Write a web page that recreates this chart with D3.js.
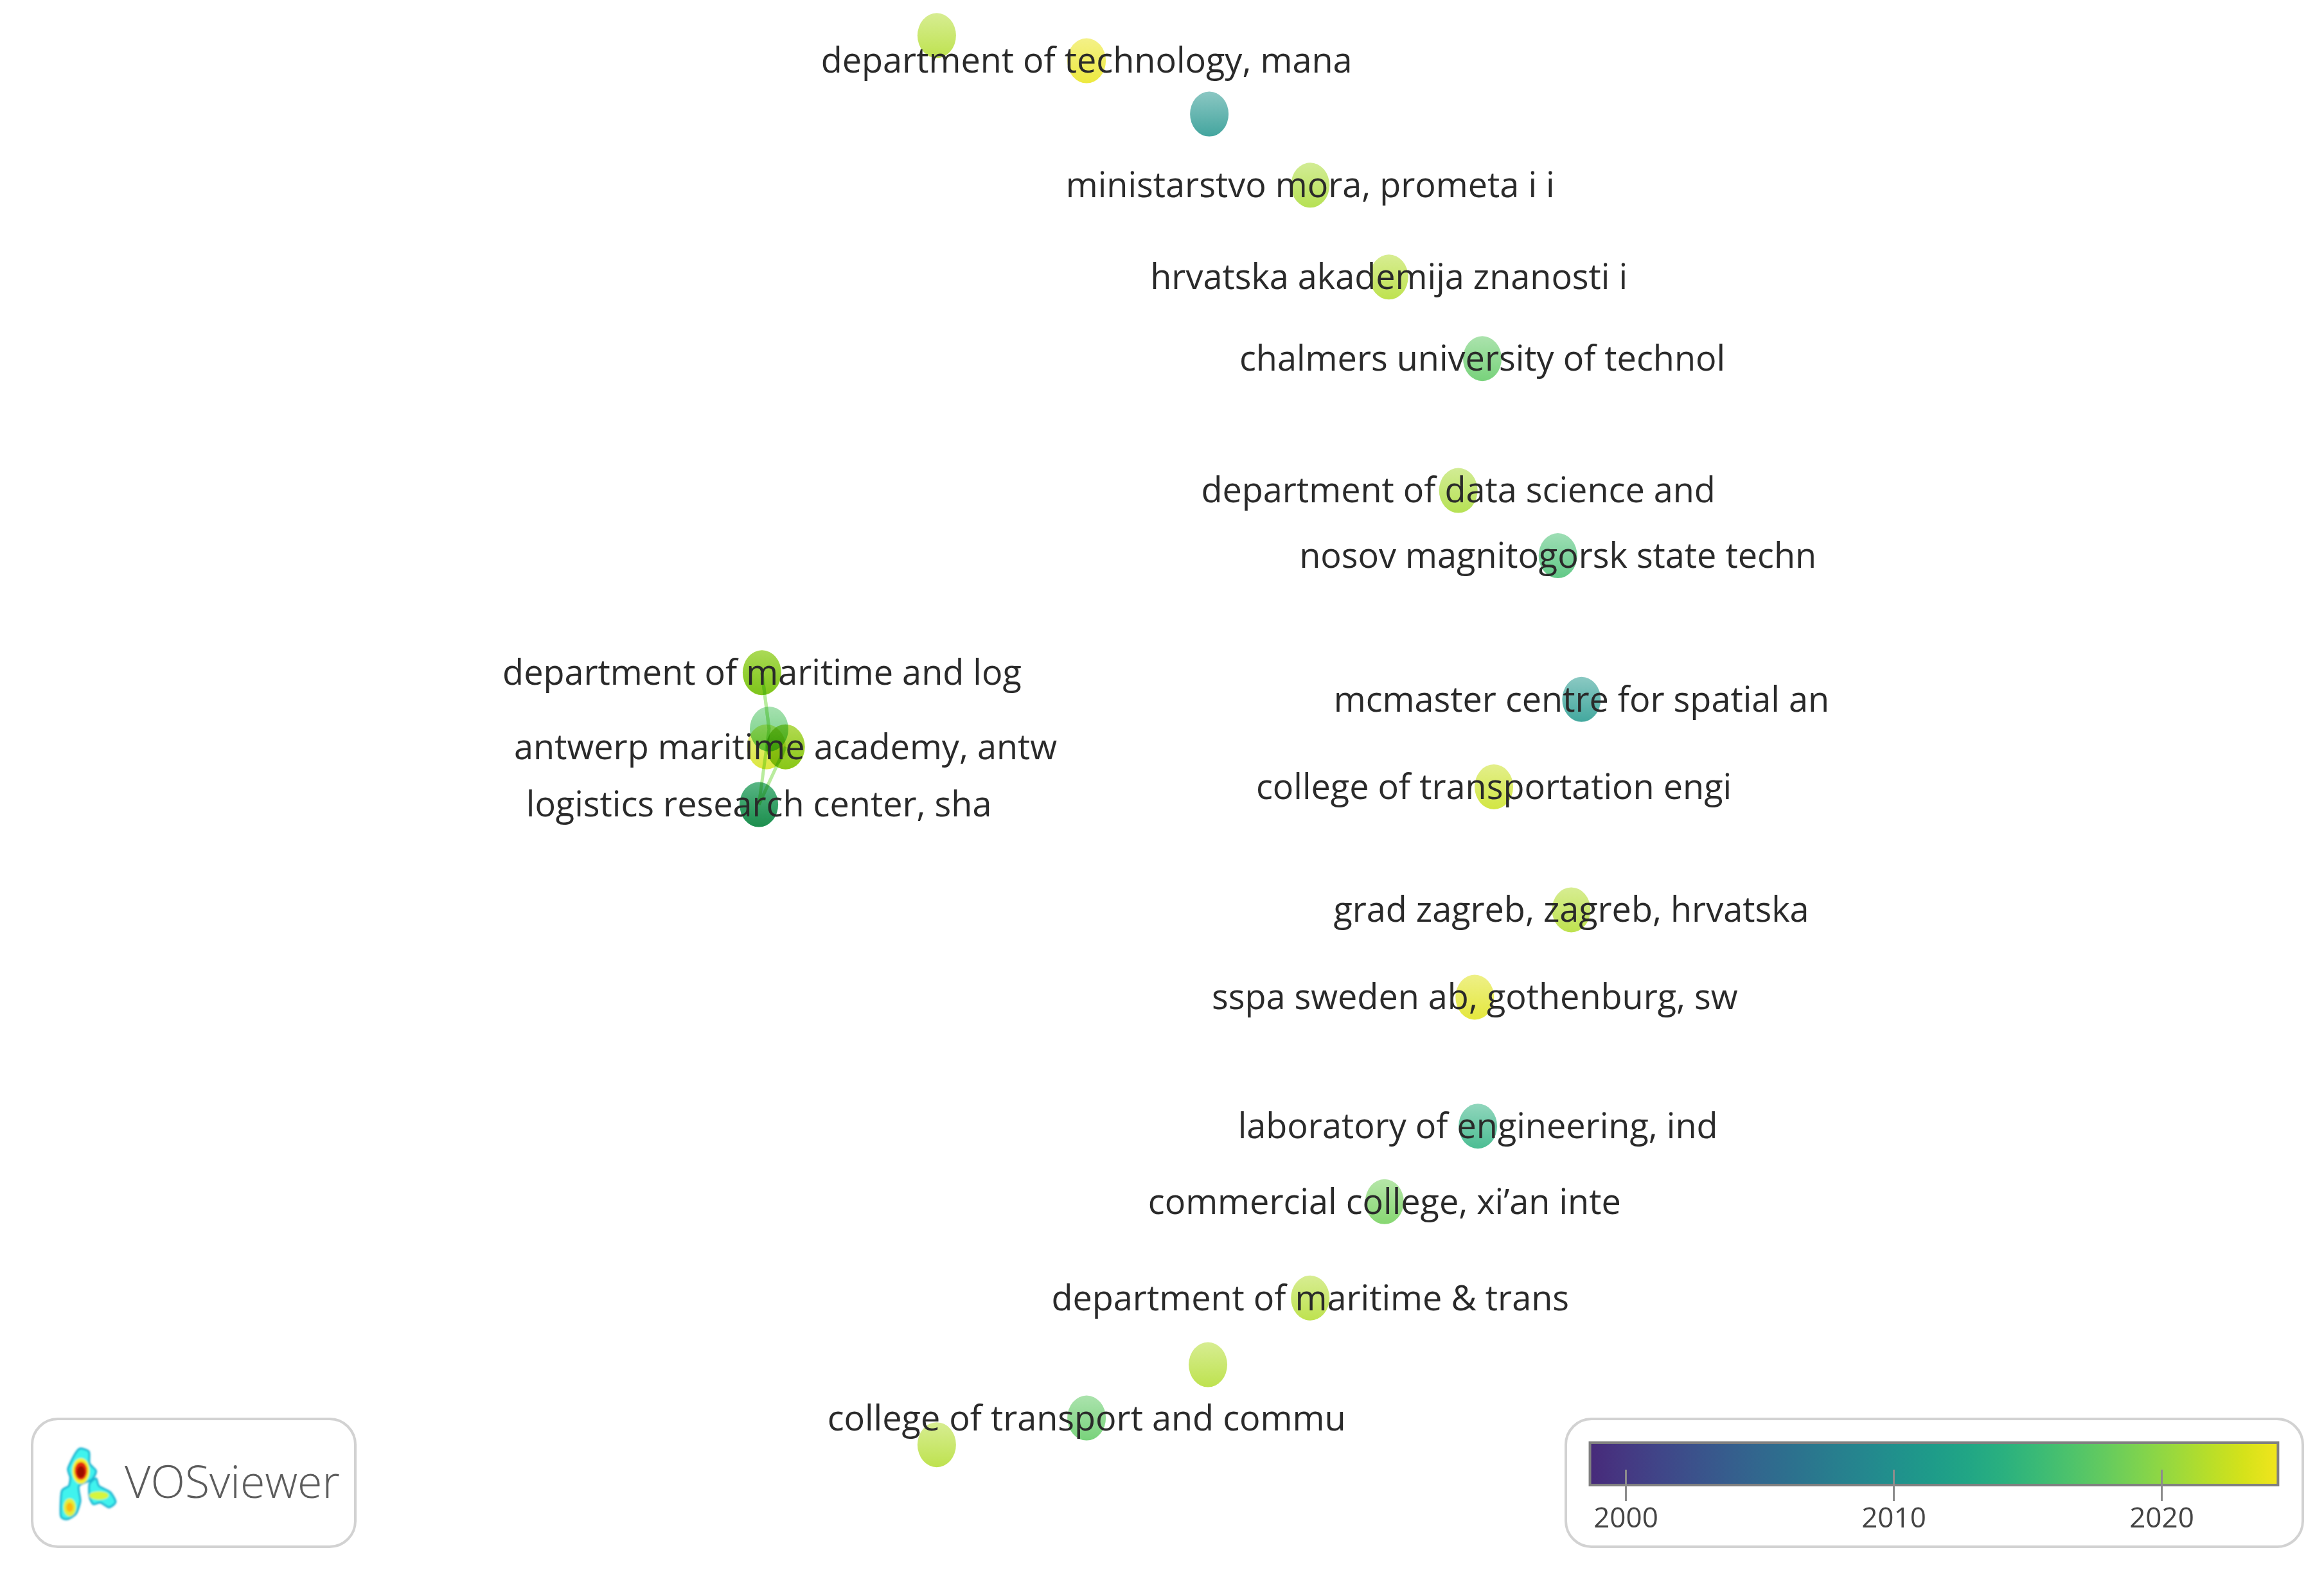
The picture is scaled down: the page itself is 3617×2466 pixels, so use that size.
<!DOCTYPE html>
<html>
<head>
<meta charset="utf-8">
<script src="https://cdn.jsdelivr.net/npm/d3@7"></script>
<style>
  html, body { margin: 0; padding: 0; background: #fff; }
  svg { display: block; font-family: "Open Sans", sans-serif; }
</style>
</head>
<body>
<svg id="chart" width="3617" height="2466"></svg>
<script>
// map coordinates of the nodes
var nodeLabels = ["", "department of technology, mana", "", "ministarstvo mora, prometa i i", "hrvatska akademija znanosti i",
  "chalmers university of technol", "department of data science and", "nosov magnitogorsk state techn",
  "", "department of maritime and log", "", "", "antwerp maritime academy, antw", "", "", "logistics research center, sha",
  "mcmaster centre for spatial an", "college of transportation engi", "grad zagreb, zagreb, hrvatska",
  "sspa sweden ab, gothenburg, sw", "laboratory of engineering, ind", "commercial college, xi\u2019an inte",
  "department of maritime & trans", "", "college of transport and commu", ""];
var nodeX = [-0.560, -0.223, 0.053, 0.280, 0.457, 0.667, 0.613, 0.837, -0.953, -0.953, -0.937, -0.943, -0.900, -0.900, -0.960, -0.960,
  0.890, 0.693, 0.867, 0.650, 0.657, 0.447, 0.280, 0.050, -0.223, -0.560];
var nodeY = [0.952, 0.918, 0.846, 0.750, 0.626, 0.516, 0.338, 0.250, 0.092, 0.092, 0.016, -0.008, -0.008, -0.008, -0.086, -0.086,
  0.056, -0.062, -0.228, -0.346, -0.520, -0.622, -0.752, -0.842, -0.914, -0.950];
var nodeYear = [2021.5, 2024, 2010.5, 2021, 2021.5, 2017.5, 2021, 2016, 2023, 2019, 2017, 2023, 2023.5, 2019.5, 2012, 2017,
  2011, 2022.5, 2021.5, 2023.5, 2014, 2018.5, 2021.5, 2021.5, 2017.5, 2021.5];
// links between nodes, as index pairs
var linkSource = [9, 8, 10, 13];
var linkTarget = [10, 10, 15, 15];
var legendTicks = [2000, 2010, 2020];
var legendStart = 1998.67, legendEnd = 2024.35;

var svg = d3.select("#chart");
svg.append("rect").attr("width", 3617).attr("height", 2466).attr("fill", "#fff");
var defs = svg.append("defs");

var xScale = d3.scaleLinear().domain([-1, 1]).range([1153.4, 2537.5]);
var yScale = d3.scaleLinear().domain([1, -1]).range([0, 2306.8]);
var colorT = d3.scaleLinear().domain([legendStart, legendEnd]).range([0.12, 0.98]);
function yearColor(y) { return d3.interpolateViridis(colorT(y)); }
function lighten(c, k) { return d3.interpolateRgb(c, "#fff")(k); }

// links
svg.selectAll("line.link").data(linkSource).enter().append("line")
  .attr("class", "link")
  .attr("x1", function(d) { return xScale(nodeX[d]); })
  .attr("y1", function(d) { return yScale(nodeY[d]); })
  .attr("x2", function(d, i) { return xScale(nodeX[linkTarget[i]]); })
  .attr("y2", function(d, i) { return yScale(nodeY[linkTarget[i]]); })
  .attr("stroke", "#b9ec9e")
  .attr("stroke-width", 5);

// nodes, each with a soft top-to-bottom shading
nodeYear.forEach(function(year, i) {
  var grad = defs.append("linearGradient").attr("id", "node" + i)
    .attr("x1", 0).attr("y1", 0).attr("x2", 0).attr("y2", 1);
  grad.append("stop").attr("offset", "0%").attr("stop-color", lighten(yearColor(year), 0.48));
  grad.append("stop").attr("offset", "100%").attr("stop-color", lighten(yearColor(year), 0.16));
});
svg.selectAll("ellipse.node").data(nodeYear).enter().append("ellipse")
  .attr("class", "node")
  .attr("cx", function(d, i) { return xScale(nodeX[i]); })
  .attr("cy", function(d, i) { return yScale(nodeY[i]); })
  .attr("rx", 30)
  .attr("ry", 35)
  .attr("fill", function(d, i) { return "url(#node" + i + ")"; })
  .style("mix-blend-mode", "multiply");

// labels on top of the nodes
svg.selectAll("text.label").data(nodeLabels.filter(function(d) { return d !== ""; })).enter().append("text")
  .attr("class", "label")
  .attr("x", function(d) { return xScale(nodeX[nodeLabels.indexOf(d)]); })
  .attr("y", function(d) { return yScale(nodeY[nodeLabels.indexOf(d)]); })
  .attr("dy", "0.35em")
  .attr("text-anchor", "middle")
  .attr("font-size", 54)
  .attr("fill", "#2a2a2a")
  .text(function(d) { return d; });

// colour legend
svg.append("rect").attr("x", 2437).attr("y", 2209).attr("width", 1147).attr("height", 199).attr("rx", 40)
  .attr("fill", "#fff").attr("stroke", "#d2d2d2").attr("stroke-width", 4);
var legendX = d3.scaleLinear().domain([2000, 2020]).range([2530, 3364]);
var legendGrad = defs.append("linearGradient").attr("id", "legendGrad");
d3.range(0, 1.0001, 0.05).forEach(function(t) {
  legendGrad.append("stop").attr("offset", t)
    .attr("stop-color", yearColor(legendStart + t * (legendEnd - legendStart)));
});
svg.append("rect")
  .attr("x", legendX(legendStart)).attr("y", 2246)
  .attr("width", legendX(legendEnd) - legendX(legendStart)).attr("height", 66)
  .attr("fill", "url(#legendGrad)").attr("stroke", "#808080").attr("stroke-width", 4);
var legendAxis = svg.append("g").attr("transform", "translate(0,2288)")
  .call(d3.axisBottom(legendX).tickValues(legendTicks).tickFormat(d3.format("d")).tickSize(49).tickPadding(10));
legendAxis.select(".domain").remove();
legendAxis.selectAll("line").attr("stroke", "#8c8c8c").attr("stroke-width", 3);
legendAxis.selectAll("text").attr("font-size", 44).attr("font-family", "Open Sans").attr("fill", "#444");

// VOSviewer logo box
svg.append("rect").attr("x", 50).attr("y", 2209).attr("width", 503).attr("height", 199).attr("rx", 40)
  .attr("fill", "#fff").attr("stroke", "#d2d2d2").attr("stroke-width", 4);
var logoBlobs = [
  [[280,315],[310,330],[312,385],[335,420],[320,460],[275,490],[280,560],[265,620],[235,645],[212,630],[215,515],[240,490],[245,450],[237,410],[262,340]],
  [[335,455],[345,490],[385,520],[403,565],[380,590],[350,568],[325,575],[312,540],[312,480]]
];
// ellipses of the little density map: cx, cy, rx, ry
var logoSpotX = [282, 282, 282, 243, 243, 345];
var logoSpotY = [420, 420, 425, 590, 590, 535];
var logoSpotRx = [30, 22, 14, 22, 12, 34];
var logoSpotRy = [60, 42, 28, 42, 22, 20];
var logoSpotColor = ["#f6f02a", "#e62a10", "#9c0a00", "#e2ef3a", "#fbb80e", "#d6f53e"];
var logoX = d3.scaleLinear().domain([0, 1568]).range([0, 700]);
var logoY = d3.scaleLinear().domain([0, 948]).range([2150, 2466]);
var blobLine = d3.line().x(function(d) { return logoX(d[0]); }).y(function(d) { return logoY(d[1]); })
  .curve(d3.curveCardinalClosed.tension(0.3));
var blur = defs.append("filter").attr("id", "soft");
blur.append("feGaussianBlur").attr("stdDeviation", 1.5);
var logo = svg.append("g").attr("filter", "url(#soft)");
logo.selectAll("path").data(logoBlobs).enter().append("path")
  .attr("d", blobLine).attr("fill", "#3ff3ee").attr("stroke", "#19b3d0").attr("stroke-width", 3);
logo.selectAll("ellipse").data(logoSpotX).enter().append("ellipse")
  .attr("cx", function(d) { return logoX(d); })
  .attr("cy", function(d, i) { return logoY(logoSpotY[i]); })
  .attr("rx", function(d, i) { return logoX(logoSpotRx[i]); })
  .attr("ry", function(d, i) { return logoY(logoSpotRy[i]) - 2150; })
  .attr("fill", function(d, i) { return logoSpotColor[i]; });
svg.append("text").attr("x", 194).attr("y", 2332).attr("font-size", 70).attr("font-weight", 300)
  .attr("fill", "#5c5c5c").text("VOSviewer");
</script>
</body>
</html>
